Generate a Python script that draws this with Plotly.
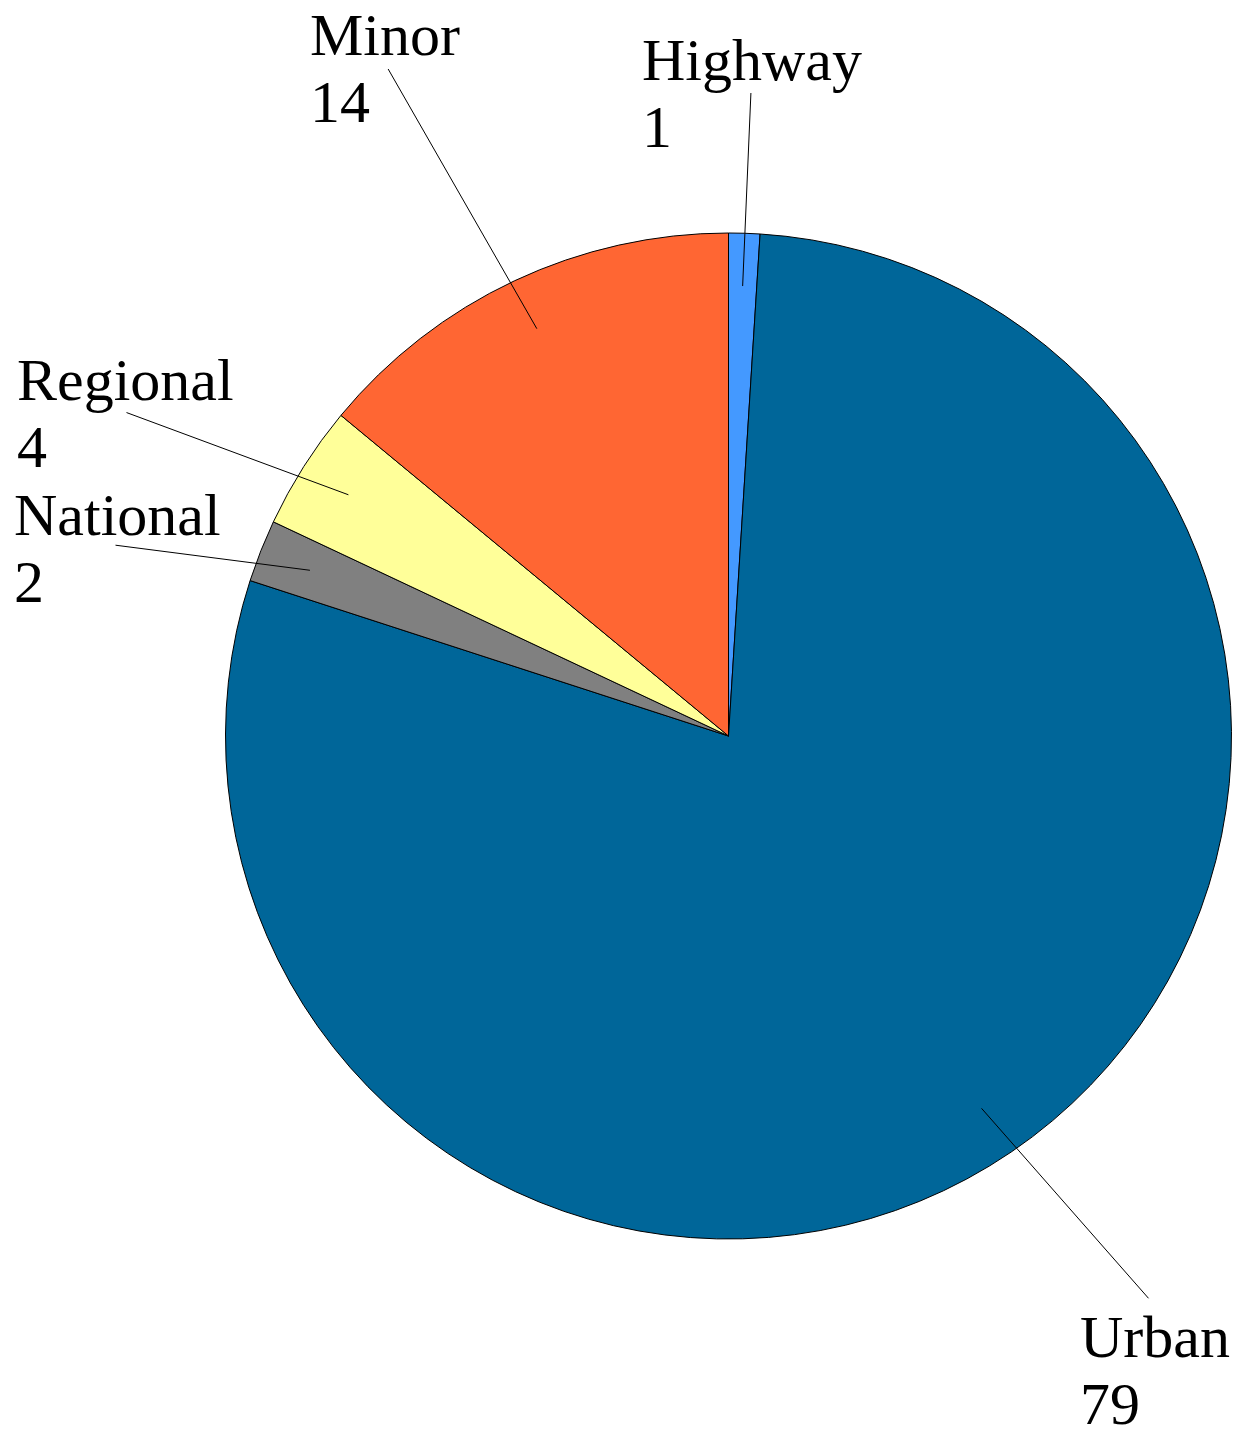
import math
import plotly.graph_objects as go

# ---- data ----
labels = ["Highway", "Urban", "National", "Regional", "Minor"]
values = [1, 79, 2, 4, 14]
colors = ["#4499ff", "#006699", "#808080", "#ffff99", "#ff6633"]

# ---- layout constants (pixels) ----
W, H = 1253, 1442
CX, CY, R = 728.5, 736.0, 503.0
FS = 60
LINE_GAP = 67
# left x / baseline y of the name line of each label
label_pos = {
    "Highway": (640, 80),
    "Urban": (1078, 1357),
    "National": (12, 535),
    "Regional": (15, 400),
    "Minor": (308, 55),
}
# end point of each leader line near its label
tail_pos = {
    "Highway": (751, 91),
    "Urban": (1150, 1300),
    "National": (114, 545),
    "Regional": (125, 412),
    "Minor": (387, 67),
}

fig = go.Figure()
fig.add_trace(go.Pie(
    labels=labels,
    values=values,
    sort=False,
    direction="clockwise",
    rotation=0,
    marker=dict(colors=colors, line=dict(color="black", width=1)),
    textinfo="none",
    hoverinfo="label+value",
    showlegend=False,
    domain=dict(x=[(CX - R) / W, (CX + R) / W],
                y=[(H - CY - R) / H, (H - CY + R) / H]),
))

annotations = []
total = sum(values)
cum = 0.0
for lab, v in zip(labels, values):
    mid = (cum + v / 2.0) / total * 2 * math.pi
    cum += v
    hx = CX + 0.895 * R * math.sin(mid)
    hy = CY - 0.895 * R * math.cos(mid)
    tx, ty = tail_pos[lab]
    annotations.append(dict(
        x=hx / W, y=1 - hy / H, xref="paper", yref="paper",
        text=" ", font=dict(size=1),
        showarrow=True, arrowhead=0, arrowwidth=1, arrowcolor="black",
        standoff=0, startstandoff=0,
        ax=tx - hx, ay=ty - hy, axref="pixel", ayref="pixel",
    ))
    lx, by = label_pos[lab]
    for i, line in enumerate([lab, str(v)]):
        b = by + i * LINE_GAP
        annotations.append(dict(
            x=lx / W, y=1 - (b - 0.33 * FS) / H, xref="paper", yref="paper",
            text=line, showarrow=False, xanchor="left", yanchor="middle",
            font=dict(family="Liberation Serif", size=FS, color="black"),
        ))

fig.update_layout(
    width=W, height=H,
    margin=dict(l=0, r=0, t=0, b=0),
    paper_bgcolor="white", plot_bgcolor="white",
    annotations=annotations,
)

fig.write_html(
    "out.html",
    config={"displayModeBar": False},
    post_script="document.body.style.margin='0';document.body.style.overflow='hidden';",
)
